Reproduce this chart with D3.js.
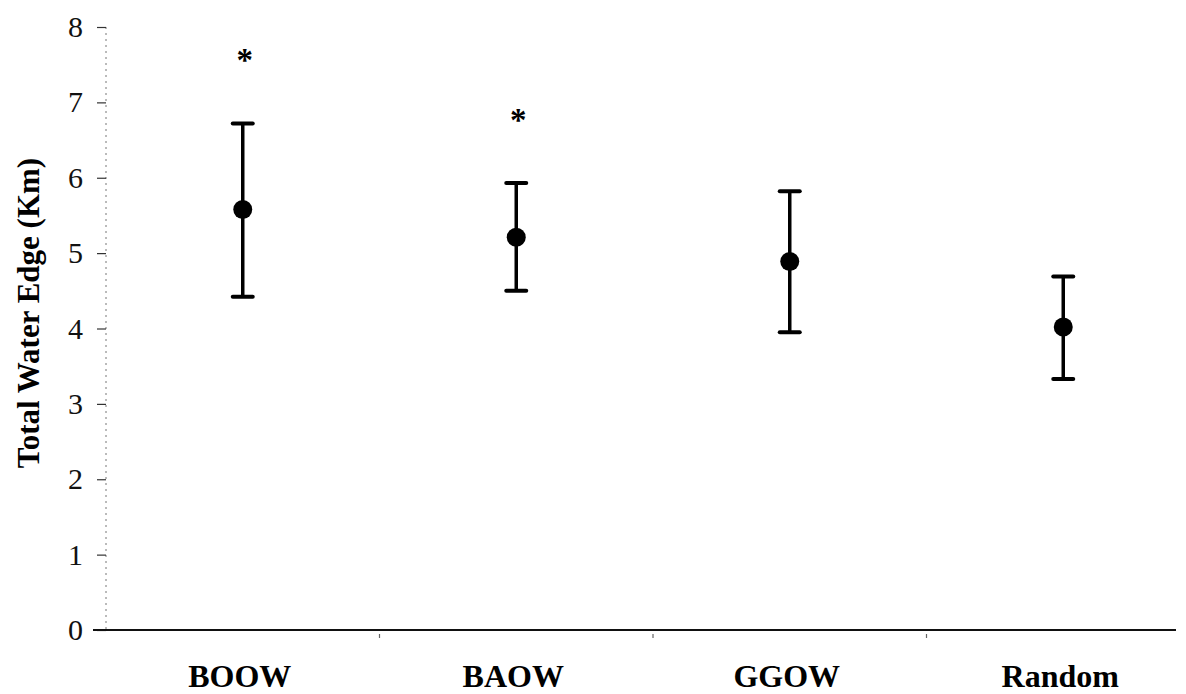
<!DOCTYPE html>
<html>
<head>
<meta charset="utf-8">
<script src="https://cdn.jsdelivr.net/npm/d3@7"></script>
<style>
  html, body { margin: 0; padding: 0; background: #fff; }
  svg { display: block; }
</style>
</head>
<body>
<svg id="chart" width="1186" height="694"></svg>
<script>
// Groups along the x axis
const categories = ["BOOW", "BAOW", "GGOW", "Random"];
// Mean total water edge (km) per group
const means = [5.58, 5.21, 4.89, 4.02];
// Upper and lower ends of the error bars (km)
const upper = [6.72, 5.93, 5.82, 4.69];
const lower = [4.42, 4.50, 3.95, 3.33];
// Groups marked as significant
const significant = [true, true, false, false];
// Y axis ticks
const yTicks = [0, 1, 2, 3, 4, 5, 6, 7, 8];

const svg = d3.select("#chart");
const serif = "'Liberation Serif', 'Times New Roman', Times, serif";

const x = d3.scaleBand().domain(categories).range([106, 1200]).padding(0);
const y = d3.scaleLinear().domain([0, 8]).range([630, 27]);

// Y axis: faint dotted spine with short ticks to the left
svg.append("line")
  .attr("x1", 106).attr("x2", 106)
  .attr("y1", y(8)).attr("y2", y(0))
  .attr("stroke", "#777").attr("stroke-width", 1)
  .attr("stroke-dasharray", "2,4");

const yAxis = d3.axisLeft(y).tickValues(yTicks).tickSize(9).tickPadding(14)
  .tickFormat(d3.format("d"));
const gy = svg.append("g").attr("transform", "translate(106,0)").call(yAxis);
gy.select(".domain").remove();
gy.selectAll(".tick line").attr("stroke", "#333").attr("stroke-width", 1.2);
gy.selectAll(".tick text")
  .attr("font-family", serif).attr("font-size", 30).attr("fill", "#111");

// X axis baseline
svg.append("line")
  .attr("x1", 93).attr("x2", 1176)
  .attr("y1", y(0)).attr("y2", y(0))
  .attr("stroke", "#111").attr("stroke-width", 2);

// small marks between groups under the baseline
const bounds = categories.slice(1).map(c => x(c));
svg.selectAll(".sep").data(bounds).enter().append("line")
  .attr("x1", d => d).attr("x2", d => d)
  .attr("y1", y(0) + 4).attr("y2", y(0) + 8)
  .attr("stroke", "#666").attr("stroke-width", 1.2);

// Category labels
svg.selectAll(".xlab").data(categories).enter().append("text")
  .attr("x", d => x(d) + x.bandwidth() / 2 - 3)
  .attr("y", 687)
  .attr("text-anchor", "middle")
  .attr("font-family", serif).attr("font-weight", "bold")
  .attr("font-size", 32).attr("fill", "#000")
  .text(d => d);

// Y axis title
svg.append("text")
  .attr("transform", "translate(39,313) rotate(-90)")
  .attr("text-anchor", "middle")
  .attr("font-family", serif).attr("font-weight", "bold")
  .attr("font-size", 31).attr("fill", "#000")
  .text("Total Water Edge (Km)");

// Error bars with caps and mean markers
const rows = categories.map((c, i) => ({
  c, mean: means[i], hi: upper[i], lo: lower[i], sig: significant[i]
}));
const cx = d => x(d.c) + x.bandwidth() / 2;

const g = svg.append("g");
g.selectAll(".whisker").data(rows).enter().append("line")
  .attr("x1", cx).attr("x2", cx)
  .attr("y1", d => y(d.hi)).attr("y2", d => y(d.lo))
  .attr("stroke", "#000").attr("stroke-width", 3.5);

["hi", "lo"].forEach(k => {
  g.selectAll(".cap-" + k).data(rows).enter().append("line")
    .attr("x1", d => cx(d) - 10).attr("x2", d => cx(d) + 10)
    .attr("y1", d => y(d[k])).attr("y2", d => y(d[k]))
    .attr("stroke", "#000").attr("stroke-width", 4)
    .attr("stroke-linecap", "round");
});

g.selectAll(".mean").data(rows).enter().append("circle")
  .attr("cx", cx).attr("cy", d => y(d.mean))
  .attr("r", 9.5).attr("fill", "#000");

// Significance markers above the upper whisker
g.selectAll(".star").data(rows.filter(d => d.sig)).enter().append("text")
  .attr("x", d => cx(d) + 2)
  .attr("y", d => y(d.hi) - 65 + 13)
  .attr("text-anchor", "middle")
  .attr("font-family", serif).attr("font-weight", "bold")
  .attr("font-size", 33).attr("fill", "#000")
  .text("*");
</script>
</body>
</html>
